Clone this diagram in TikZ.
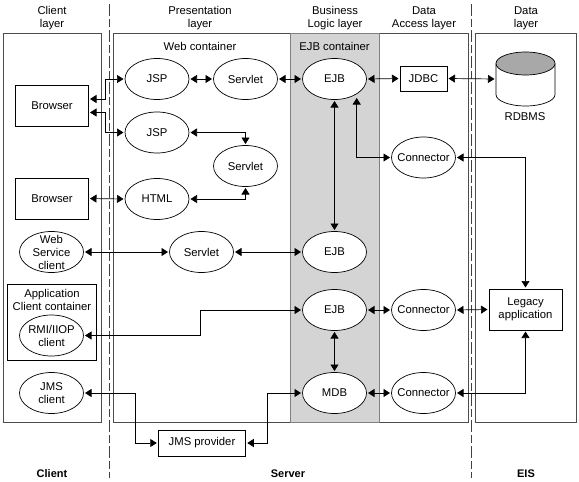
\documentclass[tikz,border=0pt]{standalone}
\usepackage{fontspec}
\setmainfont{Liberation Sans}
\usetikzlibrary{shapes.geometric,arrows.meta,calc}
\definecolor{boxline}{gray}{0.3}
\definecolor{ejbfill}{gray}{0.83}
\definecolor{dbtop}{gray}{0.66}
\tikzset{
  every node/.style={font=\fontsize{11.3}{13}\selectfont,align=center,text=black},
  oval/.style={ellipse,draw=black,line width=0.7pt,fill=white,minimum width=64pt,minimum height=41pt,inner sep=-12pt,outer sep=0pt},
  rectbox/.style={rectangle,draw=black,line width=0.7pt,fill=white,inner sep=0pt,outer sep=0pt},
  tier/.style={rectangle,draw=boxline,line width=0.8pt,inner sep=0pt,outer sep=0pt,anchor=north west},
  sep/.style={draw=black!75,line width=0.7pt,dash pattern=on 12pt off 3pt on 8pt off 3pt},
  link/.style={draw=black,line width=0.7pt,{Triangle[length=6.5pt,width=8pt]}-{Triangle[length=6.5pt,width=8pt]},shorten <=1.5pt,shorten >=1.5pt},
  head/.style={font=\fontsize{11.3}{13}\selectfont},
  tag/.style={font=\fontsize{11}{13}\selectfont\bfseries}
}
\begin{document}
\begin{tikzpicture}[x=1pt,y=-1pt]
\useasboundingbox (0,0) rectangle (579,482);
% tiers
\node[tier,minimum width=98pt,minimum height=389pt] (clienttier) at (3,33) {};
\node[tier,minimum width=355pt,minimum height=389pt] (servertier) at (113,33) {};
\node[tier,fill=ejbfill,draw=gray,minimum width=89pt,minimum height=389pt] (ejbtier) at (290,33) {};
\node[tier,minimum width=101pt,minimum height=389pt] (eistier) at (475,33) {};
\coordinate (s1a) at (109.5,4); \coordinate (s1b) at (109.5,478);
\coordinate (s2a) at (471.5,4); \coordinate (s2b) at (471.5,478);
\draw[sep] (s1a) -- (s1b);
\draw[sep] (s2a) -- (s2b);
% headings
\node[head] (h1) at (52,18.5) {Client\\layer};
\node[head] (h2) at (200,18.5) {Presentation\\layer};
\node[head] (h3) at (335,18.5) {Business\\Logic layer};
\node[head] (h4) at (424,18.5) {Data\\Access layer};
\node[head] (h5) at (526,18.5) {Data\\layer};
\node (wc) at (200,46) {Web container};
\node (ec) at (334.5,46) {EJB container};
\node[tag] (t1) at (52,474) {Client};
\node[tag] (t2) at (288,474) {Server};
\node[tag] (t3) at (526,474) {EIS};
% client
\node[rectbox,minimum width=73pt,minimum height=41pt] (br1) at (52,105.5) {Browser};
\node[rectbox,minimum width=73pt,minimum height=41pt] (br2) at (52,198.5) {Browser};
\node[oval] (ws) at (51.5,252) {Web\\Service\\client};
\node[rectbox,minimum width=89.5pt,minimum height=76pt] (acc) at (52,322) {};
\node (acct) at (52,300) {Application\\Client container};
\node[oval] (rmi) at (51.5,335.5) {RMI/IIOP\\client};
\node[oval] (jms) at (51.5,393) {JMS\\client};
% presentation
\node[oval] (jsp1) at (157,79) {JSP};
\node[oval] (sv1) at (245.5,79) {Servlet};
\node[oval] (jsp2) at (157,132.5) {JSP};
\node[oval] (sv2) at (245.5,166) {Servlet};
\node[oval] (html) at (157,199) {HTML};
\node[oval] (sv3) at (201.5,252) {Servlet};
\node[rectbox,minimum width=87.5pt,minimum height=26pt] (prov) at (202,443) {JMS provider};
% business
\node[oval] (ejb1) at (334.5,79) {EJB};
\node[oval] (ejb2) at (334.5,252) {EJB};
\node[oval] (ejb3) at (334.5,310) {EJB};
\node[oval] (mdb) at (334.5,393) {MDB};
% data access
\node[rectbox,minimum width=47pt,minimum height=25pt] (jdbc) at (423.5,78.5) {JDBC};
\node[oval] (con1) at (423.5,157.5) {Connector};
\node[oval] (con2) at (423.5,310) {Connector};
\node[oval] (con3) at (423.5,393) {Connector};
% data
\draw[fill=white,draw=black,line width=0.7pt] (496,63.5) -- (496,94.5) arc[start angle=180,end angle=0,x radius=29.5pt,y radius=-11.5pt] -- (555,63.5);
\draw[fill=dbtop,draw=black,line width=0.7pt] (525.5,63.5) ellipse[x radius=29.5pt,y radius=11.5pt];
\coordinate (dbw) at (496,79);
\node (rdbms) at (525,117) {RDBMS};
\node[rectbox,minimum width=73pt,minimum height=41pt] (leg) at (525.5,309.5) {Legacy\\application};
% connectors
\coordinate (b1u) at (88.5,99); \coordinate (b1l) at (88.5,112.5);
\coordinate (ek) at (356.7,96.5);
\draw[link] (b1u) -- (105,99) -- (105,79) -- (jsp1.west);
\draw[link] (b1l) -- (105,112.5) -- (105,132.5) -- (jsp2.west);
\draw[link] (br2.east) -- (html.west);
\draw[link] (jsp1.east) -- (sv1.west);
\draw[link] (sv1.east) -- (ejb1.west);
\draw[link] (jsp2.east) -| (sv2.north);
\draw[link] (html.east) -| (sv2.south);
\draw[link] (ejb1.east) -- (jdbc.west);
\draw[link] (jdbc.east) -- (dbw);
\draw[link] (ejb1.south) -- (ejb2.north);
\draw[link] (ek) |- (con1.west);
\draw[link] (con1.east) -| (leg.north);
\draw[link] (ws.east) -- (sv3.west);
\draw[link] (sv3.east) -- (ejb2.west);
\draw[link] (ejb3.west) -- (200,310) -- (200,335.5) -- (rmi.east);
\draw[link] (ejb3.east) -- (con2.west);
\draw[link] (con2.east) -- (leg.west);
\draw[link] (ejb3.south) -- (mdb.north);
\draw[link] (mdb.east) -- (con3.west);
\draw[link] (con3.east) -| (leg.south);
\draw[link] (jms.east) -- (135.7,393) -- (135.7,443) -- (prov.west);
\draw[link] (prov.east) -- (267.3,443) -- (267.3,393) -- (mdb.west);
\end{tikzpicture}
\end{document}
